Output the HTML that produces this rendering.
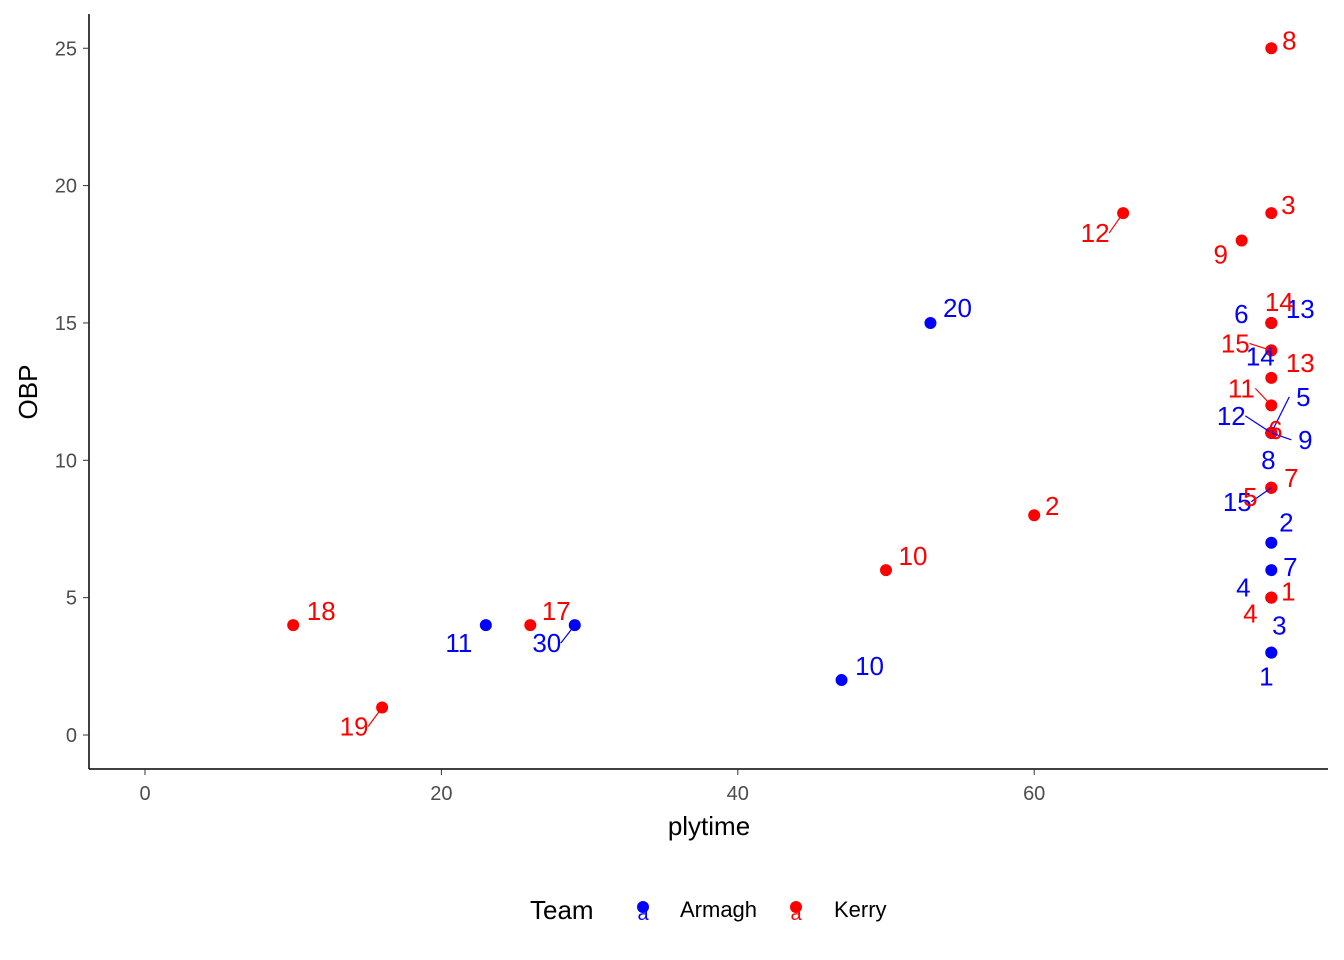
<!DOCTYPE html>
<html><head><meta charset="utf-8"><style>body{margin:0;background:#fff}svg{display:block;font-family:"Liberation Sans",Arial,sans-serif}</style></head>
<body>
<svg id="chart" width="1344" height="960" viewBox="0 0 1344 960">
<g id="axes"></g><g id="marks"></g><g id="labels"></g>
<text x="709" y="835" font-size="26" text-anchor="middle">plytime</text>
<text transform="translate(37,392) rotate(-90)" font-size="26" text-anchor="middle">OBP</text>
<g>
<text x="530" y="919" font-size="26">Team</text>
<g><circle cx="643" cy="907" r="6" fill="#0000ff"/><text x="643" y="920" font-size="20" fill="#0000ff" text-anchor="middle">a</text><text x="680" y="917" font-size="22">Armagh</text></g>
<g><circle cx="796" cy="907" r="6" fill="#ff0000"/><text x="796" y="920" font-size="20" fill="#ff0000" text-anchor="middle">a</text><text x="834" y="917" font-size="22">Kerry</text></g>
</g>
</svg>
<script>
const xTicks=[0,20,40,60];
const yTicks=[0,5,10,15,20,25];
const armaghX=[23,29,47,53,76,76,76,76,76,76,76,76,76,76,76];
const armaghY=[4,4,2,15,11,11,11,11,15,15,14,9,5,7,6];
const armaghLab=["11","30","10","20","12","9","5","8","6","13","14","15","4","2","7"];
const armaghDX=[-27,-28,28,27,-40,34,32,-3,-30,29,-11,-34,-28,15,19];
const armaghDY=[18,18,-14,-15,-17,7,-36,27,-9,-14,6,14,-10,-20,-3];
const armaghX2=[76,76];const armaghY2=[3,3];const armaghLab2=["3","1"];const armaghDX2=[8,-5];const armaghDY2=[-27,24];
const kerryX=[10,16,26,50,60,66,74,76,76,76,76,76,76,76,76,76,76,76];
const kerryY=[4,1,4,6,8,19,18,25,19,15,14,13,12,11,9,9,5,5];
const kerryLab=["18","19","17","10","2","12","9","8","3","14","15","13","11","6","7","5","1","4"];
const kerryDX=[28,-28,26,27,18,-28,-21,18,17,8,-36,29,-30,4,20,-21,17,-21];
const kerryDY=[-14,19,-14,-14,-9,20,14,-8,-8,-21,-7,-15,-17,-3,-10,9,-6,16];
const NS="http://www.w3.org/2000/svg";
const xs=v=>145+v*14.82, ys=v=>735-v*27.47;
function mk(t,a,p){const e=document.createElementNS(NS,t);for(const k in a)e.setAttribute(k,a[k]);p.appendChild(e);return e;}
const ax=document.getElementById('axes'),mg=document.getElementById('marks'),lg=document.getElementById('labels');
let l=mk('line',{x1:89,y1:14,x2:89,y2:769,stroke:'#000','stroke-width':1.5},ax);


l=mk('line',{x1:89,y1:769,x2:1328,y2:769,stroke:'#000','stroke-width':1.5},ax);


xTicks.forEach(v=>{const x=xs(v);mk('line',{x1:x,y1:769,x2:x,y2:775,stroke:'#333'},ax);
const t=mk('text',{x:x,y:800,'font-size':20,fill:'#4d4d4d','text-anchor':'middle'},ax);t.textContent=v;

});
yTicks.forEach(v=>{const y=ys(v);mk('line',{x1:83,y1:y,x2:89,y2:y,stroke:'#333'},ax);
const t=mk('text',{x:77,y:y+7,'font-size':20,fill:'#4d4d4d','text-anchor':'end'},ax);t.textContent=v;

});
function series(X,Y,L,DX,DY,col,name){
X.forEach((x,i)=>{const px=xs(x),py=ys(Y[i]);
const c=mk('circle',{cx:px,cy:py,r:6,fill:col},mg);


const tx=px+DX[i],ty=py+DY[i];
if(Math.hypot(DX[i],DY[i])>33){const seg=mk('line',{x1:px,y1:py,x2:tx-Math.sign(DX[i])*14,y2:ty,stroke:col,'stroke-width':1.2},lg);}
const t=mk('text',{x:tx,y:ty+9,'font-size':26,fill:col,'text-anchor':'middle'},lg);t.textContent=L[i];

});}
series(armaghX,armaghY,armaghLab,armaghDX,armaghDY,'#0000ff','armagh');
series(armaghX2,armaghY2,armaghLab2,armaghDX2,armaghDY2,'#0000ff','armagh');
series(kerryX,kerryY,kerryLab,kerryDX,kerryDY,'#ff0000','kerry');
</script>
</body></html>
